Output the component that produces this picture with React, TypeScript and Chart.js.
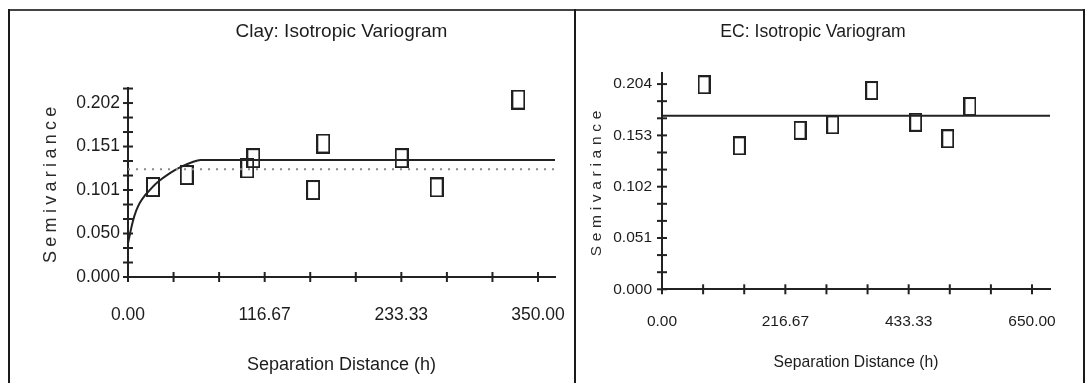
import React, { useEffect, useRef } from 'react';
import { Chart, registerables } from 'chart.js';

Chart.register(...registerables);

// ---------- Clay panel data ----------
const clayTitle = 'Clay: Isotropic Variogram';
const clayLagDistance = [21.3, 50.1, 101.8, 107.0, 158.0, 166.7, 233.6, 263.5, 333.2];
const claySemivariance = [0.1045, 0.1184, 0.126, 0.138, 0.101, 0.155, 0.138, 0.104, 0.206];
const clayModelDistance = [0, 2, 4, 7, 10, 14, 18, 22, 27, 33, 40, 47, 54, 62, 364.5];
const clayModelValue = [0.039, 0.052, 0.064, 0.077, 0.086, 0.094, 0.1, 0.106, 0.112, 0.118, 0.124, 0.129, 0.133, 0.136, 0.136];
const claySampleVarianceDistance = [0, 364.5];
const claySampleVariance = [0.125, 0.125];
const clayXTicks = [0, 116.67, 233.33, 350];
const clayXTickLabels = ['0.00', '116.67', '233.33', '350.00'];
const clayYTicks = [0, 0.0505, 0.101, 0.1515, 0.202];
const clayYTickLabels = ['0.000', '0.050', '0.101', '0.151', '0.202'];
const clayXMax = 364.5;
const clayYMax = 0.219;

// ---------- EC panel data ----------
const ecTitle = 'EC: Isotropic Variogram';
const ecLagDistance = [73.8, 135.9, 242.5, 299.9, 368.4, 445.7, 502.0, 541.0];
const ecSemivariance = [0.2033, 0.1426, 0.158, 0.1635, 0.1976, 0.166, 0.1496, 0.1817];
const ecModelDistance = [0, 681.6];
const ecModelValue = [0.1724, 0.1724];
const ecXTicks = [0, 216.67, 433.33, 650];
const ecXTickLabels = ['0.00', '216.67', '433.33', '650.00'];
const ecYTicks = [0, 0.051, 0.102, 0.153, 0.204];
const ecYTickLabels = ['0.000', '0.051', '0.102', '0.153', '0.204'];
const ecXMax = 681.6;
const ecYMax = 0.215;

const xAxisTitle = 'Separation Distance (h)';
const yAxisTitle = 'Semivariance';

const FONT = "'Liberation Sans', Arial, sans-serif";
const INK = '#1c1c1c';

function withMinor(majors: number[], max: number): number[] {
  const step = (majors[1] - majors[0]) / 3;
  const out: number[] = [];
  for (let i = 0; i < majors.length; i++) {
    out.push(majors[i]);
    for (let k = 1; k <= 2; k++) {
      const v = majors[i] + k * step;
      if (i < majors.length - 1 || v <= max + 1e-9) out.push(v);
    }
  }
  return out;
}

function labelFor(majors: number[], labels: string[], value: number) {
  const i = majors.findIndex((m) => Math.abs(m - value) < 1e-7);
  return i >= 0 ? labels[i] : '';
}

function makeSquare(w: number, h: number, lw: number) {
  const c = document.createElement('canvas');
  c.width = w;
  c.height = h;
  const ctx = c.getContext('2d')!;
  ctx.strokeStyle = '#202020';
  ctx.lineWidth = lw;
  ctx.strokeRect(lw / 2, lw / 2, w - lw, h - lw);
  return c;
}

const crossTicks = {
  id: 'crossTicks',
  afterDraw(chart: any) {
    const ctx = chart.ctx;
    const { left, bottom } = chart.chartArea;
    ctx.save();
    ctx.strokeStyle = '#222';
    ctx.lineWidth = 2;
    const xs = chart.scales.x;
    xs.ticks.forEach((t: any) => {
      const px = xs.getPixelForValue(t.value);
      ctx.beginPath();
      ctx.moveTo(px, bottom - 5);
      ctx.lineTo(px, bottom + 5);
      ctx.stroke();
    });
    const ys = chart.scales.y;
    ys.ticks.forEach((t: any) => {
      const py = ys.getPixelForValue(t.value);
      ctx.beginPath();
      ctx.moveTo(left - 5, py);
      ctx.lineTo(left + 5, py);
      ctx.stroke();
    });
    ctx.restore();
  },
};

type PanelSpec = {
  title: string;
  titleSize: number;
  titlePad: { top: number; bottom: number };
  titleFullSize: boolean;
  tickSize: number;
  xTickPad: number;
  yTickPad: number;
  xTitleSize: number;
  xTitlePadBottom: number;
  yTitleSize: number;
  yTitlePadTop: number;
  yTitleSpacing: string;
  yScaleWidth: number;
  xScaleHeight: number;
  padRight: number;
  xMax: number;
  yMax: number;
  xMajors: number[];
  xLabels: string[];
  yMajors: number[];
  yLabels: string[];
  lagX: number[];
  lagY: number[];
  marker: [number, number];
  lines: { x: number[]; y: number[]; dash: number[]; color: string }[];
};

function buildConfig(p: PanelSpec): any {
  const marker = makeSquare(p.marker[0], p.marker[1], 2);
  const xTickVals = withMinor(p.xMajors, p.xMax);
  const yTickVals = withMinor(p.yMajors, p.yMax);
  const spacingPlugin = {
    id: 'yTitleSpacing',
    beforeDraw(chart: any) {
      const s: any = chart.scales.y;
      if (s && !s.__spaced) {
        const orig = s.drawTitle.bind(s);
        s.drawTitle = () => {
          const ctx: any = chart.ctx;
          ctx.save();
          ctx.letterSpacing = p.yTitleSpacing;
          orig();
          ctx.restore();
        };
        s.__spaced = true;
      }
    },
  };
  return {
    type: 'scatter',
    data: {
      datasets: [
        ...p.lines.map((l) => ({
          type: 'line',
          data: l.x.map((x, i) => ({ x, y: l.y[i] })),
          borderColor: l.color,
          borderWidth: 2,
          borderDash: l.dash,
          pointRadius: 0,
          cubicInterpolationMode: 'monotone',
          fill: false,
        })),
        {
          type: 'scatter',
          data: p.lagX.map((x, i) => ({ x, y: p.lagY[i] })),
          pointStyle: marker,
          pointRadius: 8,
          pointHoverRadius: 8,
        },
      ],
    },
    options: {
      responsive: false,
      animation: false,
      events: [],
      layout: { padding: { left: 0, right: p.padRight, top: 0, bottom: 0 } },
      plugins: {
        legend: { display: false },
        tooltip: { enabled: false },
        title: {
          display: true,
          text: p.title,
          color: INK,
          fullSize: p.titleFullSize,
          font: { family: FONT, size: p.titleSize, weight: 'normal', lineHeight: 1.2 },
          padding: p.titlePad,
        },
      },
      scales: {
        x: {
          type: 'linear',
          min: 0,
          max: p.xMax,
          grid: { display: false, drawTicks: false },
          border: { display: true, color: '#222', width: 2 },
          afterBuildTicks: (scale: any) => {
            scale.ticks = xTickVals.map((v) => ({ value: v }));
          },
          afterFit: (scale: any) => {
            scale.height = p.xScaleHeight;
            scale.paddingLeft = 0;
            scale.paddingRight = 0;
          },
          ticks: {
            autoSkip: false,
            maxRotation: 0,
            minRotation: 0,
            padding: p.xTickPad,
            color: INK,
            font: { family: FONT, size: p.tickSize, lineHeight: 1.2 },
            callback: (v: number) => labelFor(p.xMajors, p.xLabels, v),
          },
          title: {
            display: true,
            text: xAxisTitle,
            color: INK,
            font: { family: FONT, size: p.xTitleSize, lineHeight: 1.2 },
            padding: { top: 0, bottom: p.xTitlePadBottom },
          },
        },
        y: {
          type: 'linear',
          min: 0,
          max: p.yMax,
          grid: { display: false, drawTicks: false },
          border: { display: true, color: '#222', width: 2 },
          afterBuildTicks: (scale: any) => {
            scale.ticks = yTickVals.map((v) => ({ value: v }));
          },
          afterFit: (scale: any) => {
            scale.width = p.yScaleWidth;
            scale.paddingTop = 0;
            scale.paddingBottom = 0;
          },
          ticks: {
            autoSkip: false,
            padding: p.yTickPad,
            color: INK,
            font: { family: FONT, size: p.tickSize, lineHeight: 1.2 },
            callback: (v: number) => labelFor(p.yMajors, p.yLabels, v),
          },
          title: {
            display: true,
            text: yAxisTitle,
            color: '#2a2a2a',
            font: { family: FONT, size: p.yTitleSize, lineHeight: 1.2 },
            padding: { top: p.yTitlePadTop, bottom: 0 },
          },
        },
      },
    },
    plugins: [crossTicks, spacingPlugin],
  };
}

const claySpec: PanelSpec = {
  title: clayTitle,
  titleSize: 19,
  titlePad: { top: 9.6, bottom: 45 },
  titleFullSize: false,
  tickSize: 17.5,
  xTickPad: 27.5,
  yTickPad: 8,
  xTitleSize: 18,
  xTitlePadBottom: 7.2,
  yTitleSize: 18,
  yTitlePadTop: 30.2,
  yTitleSpacing: '4.3px',
  yScaleWidth: 118,
  xScaleHeight: 106,
  padRight: 19,
  xMax: clayXMax,
  yMax: clayYMax,
  xMajors: clayXTicks,
  xLabels: clayXTickLabels,
  yMajors: clayYTicks,
  yLabels: clayYTickLabels,
  lagX: clayLagDistance,
  lagY: claySemivariance,
  marker: [14, 20],
  lines: [
    { x: claySampleVarianceDistance, y: claySampleVariance, dash: [2, 6], color: '#8a8a8a' },
    { x: clayModelDistance, y: clayModelValue, dash: [], color: '#222' },
  ],
};

const ecSpec: PanelSpec = {
  title: ecTitle,
  titleSize: 17.6,
  titlePad: { top: 10.4, bottom: 30.5 },
  titleFullSize: true,
  tickSize: 15.5,
  xTickPad: 23.4,
  yTickPad: 10,
  xTitleSize: 15.7,
  xTitlePadBottom: 10.6,
  yTitleSize: 15.5,
  yTitlePadTop: 11.7,
  yTitleSpacing: '4.7px',
  yScaleWidth: 86,
  xScaleHeight: 93.7,
  padRight: 33,
  xMax: ecXMax,
  yMax: ecYMax,
  xMajors: ecXTicks,
  xLabels: ecXTickLabels,
  yMajors: ecYTicks,
  yLabels: ecYTickLabels,
  lagX: ecLagDistance,
  lagY: ecSemivariance,
  marker: [13, 19],
  lines: [{ x: ecModelDistance, y: ecModelValue, dash: [], color: '#222' }],
};

function Panel({ spec, left, width }: { spec: PanelSpec; left: number; width: number }) {
  const ref = useRef<HTMLCanvasElement>(null);
  useEffect(() => {
    if (!ref.current) return;
    const chart = new Chart(ref.current, buildConfig(spec));
    return () => chart.destroy();
  }, [spec]);
  return (
    <canvas
      ref={ref}
      width={width}
      height={372}
      style={{ position: 'absolute', left, top: 11, width, height: 372 }}
    />
  );
}

export default function App() {
  const line = (l: number, t: number, w: number, h: number, c: string) => (
    <div style={{ position: 'absolute', left: l, top: t, width: w, height: h, background: c }} />
  );
  return (
    <div
      style={{
        position: 'fixed',
        left: 0,
        top: 0,
        width: 1085,
        height: 383,
        overflow: 'hidden',
        background: '#fff',
      }}
    >
      {line(8, 9, 1077, 2, '#444')}
      {line(8, 9, 2, 374, '#1a1a1a')}
      {line(574, 9, 2, 374, '#1a1a1a')}
      {line(1083, 9, 2, 374, '#1a1a1a')}
      <Panel spec={claySpec} left={10} width={564} />
      <Panel spec={ecSpec} left={576} width={507} />
    </div>
  );
}
